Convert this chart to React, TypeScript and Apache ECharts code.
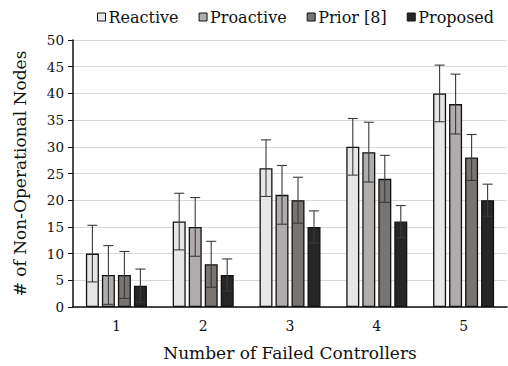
import React, { useEffect, useRef } from "react";
import * as echarts from "echarts";

const categories = ["1", "2", "3", "4", "5"];
const seriesNames = ["Reactive", "Proactive", "Prior [8]", "Proposed"];
const reactive = [10, 16, 26, 30, 40];
const proactive = [6, 15, 21, 29, 38];
const prior = [6, 8, 20, 24, 28];
const proposed = [4, 6, 15, 16, 20];
const reactiveErr = [5.3, 5.3, 5.3, 5.3, 5.3];
const proactiveErr = [5.5, 5.5, 5.5, 5.6, 5.6];
const priorErr = [4.4, 4.3, 4.3, 4.4, 4.3];
const proposedErr = [3.1, 3, 3, 3, 3];
const yTicks = [0, 5, 10, 15, 20, 25, 30, 35, 40, 45, 50];

const colors = ["#e6e6e6", "#b0acab", "#787472", "#262626"];
const FONT = "DejaVu Serif";
const BAR_W = 13;
const BAR_GAP = 3;

export default function App() {
  const ref = useRef<HTMLDivElement>(null);
  useEffect(() => {
    if (!ref.current) return;
    const chart = echarts.init(ref.current, null, { renderer: "svg" });
    const values = [reactive, proactive, prior, proposed];
    const errs = [reactiveErr, proactiveErr, priorErr, proposedErr];
    const barSeries = values.map((v, i) => ({
      name: seriesNames[i],
      type: "bar",
      data: v,
      barWidth: BAR_W,
      barGap: ((BAR_GAP / BAR_W) * 100).toFixed(1) + "%",
      itemStyle: { color: colors[i], borderColor: "#111", borderWidth: 1.3 },
      z: 2,
    }));
    const errSeries = values.map((v, i) => ({
      name: seriesNames[i] + " err",
      type: "custom",
      data: v.map((val, j) => [j, val, errs[i][j]]),
      z: 5,
      silent: true,
      renderItem: (params: any, api: any) => {
        const c = api.value(0);
        const val = api.value(1);
        const e = api.value(2);
        const offset = (i - 1.5) * (BAR_W + BAR_GAP);
        const top = api.coord([c, val + e]);
        const bot = api.coord([c, val - e]);
        const x = top[0] + offset;
        const hw = 5;
        const style = { stroke: "#3a3a3a", lineWidth: 1.1 };
        return {
          type: "group",
          children: [
            { type: "line", shape: { x1: x, y1: top[1], x2: x, y2: bot[1] }, style },
            { type: "line", shape: { x1: x - hw, y1: top[1], x2: x + hw, y2: top[1] }, style },
            { type: "line", shape: { x1: x - hw, y1: bot[1], x2: x + hw, y2: bot[1] }, style },
          ],
        };
      },
    }));
    chart.setOption({
      animation: false,
      textStyle: { fontFamily: FONT },
      legend: {
        data: seriesNames,
        top: 4,
        left: 92,
        itemWidth: 8,
        itemHeight: 8,
        itemGap: 20,
        icon: "rect",
        textStyle: { fontFamily: FONT, fontSize: 16, color: "#111", padding: [0, 0, 0, -2] },
        itemStyle: { borderColor: "#111", borderWidth: 1 },
      },
      grid: { left: 73, right: 1, top: 40, bottom: 58 },
      xAxis: {
        type: "category",
        data: categories,
        name: "Number of Failed Controllers",
        nameLocation: "middle",
        nameGap: 37,
        nameTextStyle: { fontFamily: FONT, fontSize: 17, color: "#111" },
        axisLine: { lineStyle: { color: "#111", width: 1.5 } },
        axisTick: { show: false },
        axisLabel: { fontFamily: FONT, fontSize: 14, color: "#111", margin: 12 },
      },
      yAxis: {
        type: "value",
        min: yTicks[0],
        max: yTicks[yTicks.length - 1],
        interval: 5,
        name: "# of Non-Operational Nodes",
        nameLocation: "middle",
        nameGap: 45,
        nameTextStyle: { fontFamily: FONT, fontSize: 17, color: "#111" },
        axisLine: { show: true, lineStyle: { color: "#111", width: 1.5 } },
        axisTick: { show: true, length: 5, lineStyle: { color: "#111" } },
        axisLabel: { fontFamily: FONT, fontSize: 13.5, color: "#111", margin: 9 },
        splitLine: { lineStyle: { color: "#d9d9d9", width: 1.2 } },
      },
      series: [...barSeries, ...errSeries],
    });
    return () => chart.dispose();
  }, []);
  return (
    <div
      ref={ref}
      style={{ position: "absolute", left: 0, top: 0, width: 508, height: 366 }}
    />
  );
}
